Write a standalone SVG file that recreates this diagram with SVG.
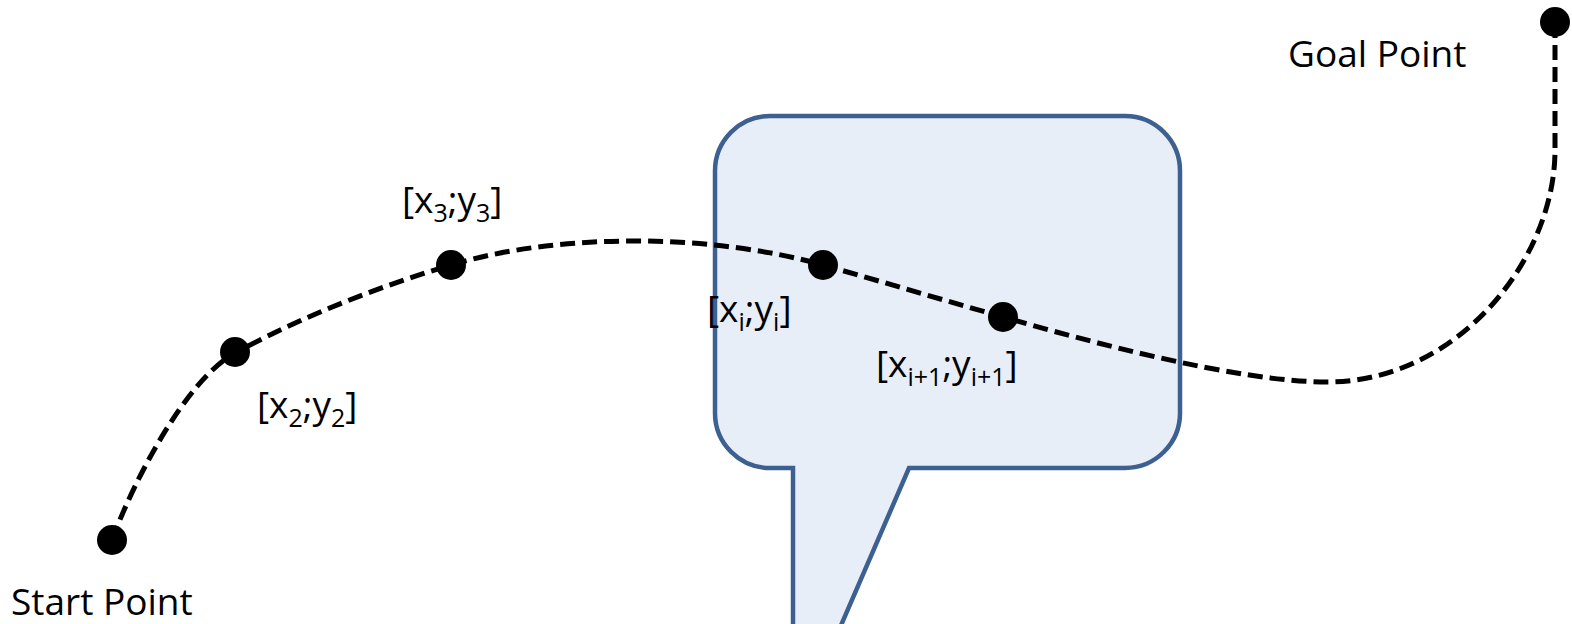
<svg xmlns="http://www.w3.org/2000/svg" width="1572" height="624" viewBox="0 0 1572 624">
  <style>
    .label { font-family: "Open Sans", "Noto Sans", sans-serif; font-size: 37px; fill: #000; }
    .sub { font-size: 25px; }
    .path { fill: none; stroke: #000; stroke-width: 5; stroke-dasharray: 15 7; }
    .pt { fill: #000; }
    .callout { fill: #e8eef7; stroke: #3c6190; stroke-width: 4.5; stroke-linejoin: miter; }
  </style>

  <!-- callout bubble -->
  <g id="callout">
    <path class="callout" d="M 770,116 H 1125 A 55,55 0 0 1 1180,171 V 412 A 55,55 0 0 1 1125,468 H 909 L 839,630 H 793 V 468 H 770 A 55,55 0 0 1 715,413 V 171 A 55,55 0 0 1 770,116 Z"/>
  </g>

  <!-- trajectory -->
  <g id="connectors">
    <path class="path" d="M 112,540 C 132,485 185,380 235,353 C 305,315 381,286 451,265 C 561,232 713,234 823,265 C 883,282 943,300 1003,317 C 1083,340 1237,382 1327,382 C 1457,382 1555,260 1555,150 L 1555,22"/>
  </g>

  <g id="start">
    <circle class="pt" cx="112" cy="540" r="15"/>
    <text class="label" x="11" y="615">Start Point</text>
  </g>

  <g id="p2">
    <circle class="pt" cx="235" cy="352" r="15"/>
    <text class="label" x="257" y="418">[x<tspan class="sub" dy="9">2</tspan><tspan dy="-9">;y</tspan><tspan class="sub" dy="9">2</tspan><tspan dy="-9">]</tspan></text>
  </g>

  <g id="p3">
    <circle class="pt" cx="451" cy="265" r="15"/>
    <text class="label" x="402" y="213">[x<tspan class="sub" dy="9">3</tspan><tspan dy="-9">;y</tspan><tspan class="sub" dy="9">3</tspan><tspan dy="-9">]</tspan></text>
  </g>

  <g id="pi">
    <circle class="pt" cx="823" cy="265" r="15"/>
    <text class="label" x="707" y="322">[x<tspan class="sub" dy="9">i</tspan><tspan dy="-9">;y</tspan><tspan class="sub" dy="9">i</tspan><tspan dy="-9">]</tspan></text>
  </g>

  <g id="pi1">
    <circle class="pt" cx="1003" cy="317" r="15"/>
    <text class="label" x="876" y="377">[x<tspan class="sub" dy="9">i+1</tspan><tspan dy="-9">;y</tspan><tspan class="sub" dy="9">i+1</tspan><tspan dy="-9">]</tspan></text>
  </g>

  <g id="goal">
    <circle class="pt" cx="1555" cy="22" r="15"/>
    <text class="label" x="1288" y="67">Goal Point</text>
  </g>
</svg>
